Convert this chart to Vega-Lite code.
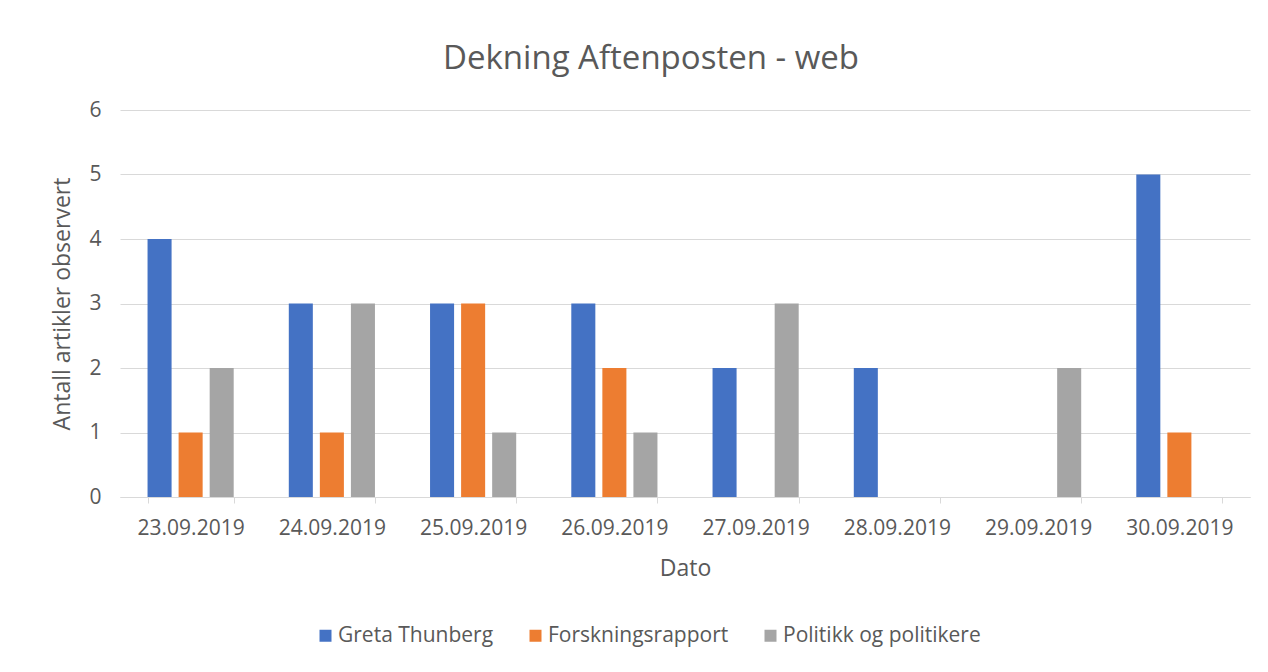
{
  "$schema": "https://vega.github.io/schema/vega-lite/v6.json",
  "width": 1130,
  "height": 387,
  "autosize": {"type": "none"},
  "padding": {"left": 120, "top": 110, "right": 18, "bottom": 175},
  "background": "white",
  "title": {
    "text": "Dekning Aftenposten - web",
    "fontSize": 33,
    "fontWeight": "normal",
    "font": "Open Sans",
    "color": "#595959",
    "anchor": "middle",
    "frame": "bounds",
    "offset": 23
  },
  "data": {
    "values": [
      {"dato": "23.09.2019", "serie": "Greta Thunberg", "antall": 4},
      {"dato": "23.09.2019", "serie": "Forskningsrapport", "antall": 1},
      {"dato": "23.09.2019", "serie": "Politikk og politikere", "antall": 2},
      {"dato": "24.09.2019", "serie": "Greta Thunberg", "antall": 3},
      {"dato": "24.09.2019", "serie": "Forskningsrapport", "antall": 1},
      {"dato": "24.09.2019", "serie": "Politikk og politikere", "antall": 3},
      {"dato": "25.09.2019", "serie": "Greta Thunberg", "antall": 3},
      {"dato": "25.09.2019", "serie": "Forskningsrapport", "antall": 3},
      {"dato": "25.09.2019", "serie": "Politikk og politikere", "antall": 1},
      {"dato": "26.09.2019", "serie": "Greta Thunberg", "antall": 3},
      {"dato": "26.09.2019", "serie": "Forskningsrapport", "antall": 2},
      {"dato": "26.09.2019", "serie": "Politikk og politikere", "antall": 1},
      {"dato": "27.09.2019", "serie": "Greta Thunberg", "antall": 2},
      {"dato": "27.09.2019", "serie": "Forskningsrapport", "antall": 0},
      {"dato": "27.09.2019", "serie": "Politikk og politikere", "antall": 3},
      {"dato": "28.09.2019", "serie": "Greta Thunberg", "antall": 2},
      {"dato": "28.09.2019", "serie": "Forskningsrapport", "antall": 0},
      {"dato": "28.09.2019", "serie": "Politikk og politikere", "antall": 0},
      {"dato": "29.09.2019", "serie": "Greta Thunberg", "antall": 0},
      {"dato": "29.09.2019", "serie": "Forskningsrapport", "antall": 0},
      {"dato": "29.09.2019", "serie": "Politikk og politikere", "antall": 2},
      {"dato": "30.09.2019", "serie": "Greta Thunberg", "antall": 5},
      {"dato": "30.09.2019", "serie": "Forskningsrapport", "antall": 1},
      {"dato": "30.09.2019", "serie": "Politikk og politikere", "antall": 0}
    ]
  },
  "mark": {"type": "bar"},
  "encoding": {
    "x": {
      "field": "dato",
      "type": "nominal",
      "sort": null,
      "scale": {"paddingInner": 0.39, "paddingOuter": 0.195},
      "axis": {
        "title": "Dato",
        "labelAngle": 0,
        "tickBand": "extent",
        "tickSize": 6,
        "tickColor": "#D9D9D9",
        "domainColor": "#D9D9D9",
        "labelPadding": 14,
        "labelFontSize": 21,
        "titleFontSize": 23,
        "titleFontWeight": "normal",
        "titlePadding": 19
      }
    },
    "xOffset": {
      "field": "serie",
      "type": "nominal",
      "scale": {"domain": ["Greta Thunberg", "Forskningsrapport", "Politikk og politikere"], "paddingInner": 0.226, "paddingOuter": 0}
    },
    "y": {
      "field": "antall",
      "type": "quantitative",
      "scale": {"domain": [0, 6], "nice": false},
      "axis": {
        "title": "Antall artikler observert",
        "values": [0, 1, 2, 3, 4, 5, 6],
        "domain": false,
        "ticks": false,
        "gridColor": "#D9D9D9",
        "labelPadding": 19,
        "labelFontSize": 21,
        "titleFontSize": 23,
        "titleFontWeight": "normal",
        "titlePadding": 14
      }
    },
    "color": {
      "field": "serie",
      "type": "nominal",
      "scale": {
        "domain": ["Greta Thunberg", "Forskningsrapport", "Politikk og politikere"],
        "range": ["#4472C4", "#ED7D31", "#A5A5A5"]
      },
      "legend": {
        "title": null,
        "orient": "none",
        "legendX": 195,
        "legendY": 515,
        "direction": "horizontal",
        "symbolType": "square",
        "symbolSize": 144,
        "symbolStrokeWidth": 0,
        "labelOffset": 2,
        "labelFontSize": 21,
        "labelLimit": 400,
        "columnPadding": 31
      }
    }
  },
  "config": {
    "font": "Open Sans",
    "axis": {"labelColor": "#595959", "titleColor": "#595959", "labelFont": "Open Sans", "titleFont": "Open Sans"},
    "legend": {"labelColor": "#595959", "labelFont": "Open Sans"},
    "view": {"stroke": null}
  }
}
